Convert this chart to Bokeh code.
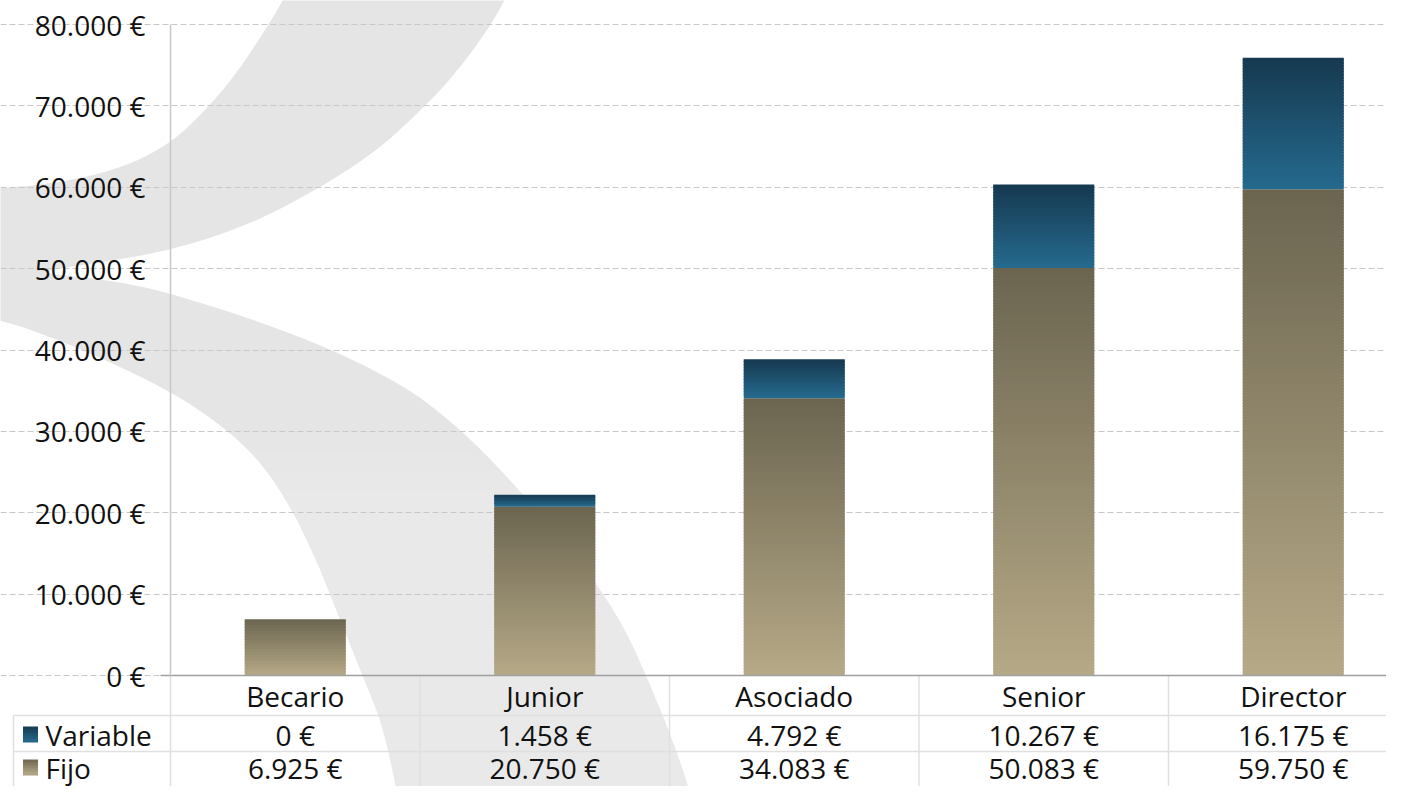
import numpy as np
from bokeh.plotting import figure
from bokeh.models import Range1d, LinearAxis, FixedTicker, Grid, ColumnDataSource
from bokeh.core.properties import value
from bokeh.embed import file_html
from bokeh.resources import INLINE

# ---------------- data ----------------
categories = ["Becario", "Junior", "Asociado", "Senior", "Director"]
fijo = [6925, 20750, 34083, 50083, 59750]
variable = [0, 1458, 4792, 10267, 16175]
series = ["Variable", "Fijo"]
y_ticks = [0, 10000, 20000, 30000, 40000, 50000, 60000, 70000, 80000]


def eur(v):
    return f"{v:,}".replace(",", ".") + " €"


# ---------------- layout helpers (figure pixels) ----------------
W, H = 1386, 786
CAT_PX = 249.5           # px per category
AX_PX = 170              # x of the value axis
ZERO_PY = 675            # y of 0
TOP_PY = 24              # y of top tick
UNIT_PX = (ZERO_PY - TOP_PY) / y_ticks[-1]


def px2x(px):
    return -0.5 + (px - AX_PX) / CAT_PX


def py2y(py):
    return (ZERO_PY - py) / UNIT_PX


x0, x1 = px2x(0), px2x(W)
y1, y0 = py2y(0), py2y(H)

FONT = "Open Sans"
FS = "28px"
TXT = "#111111"

FIJO_TOP, FIJO_BOT = (107, 101, 80), (182, 169, 135)
VAR_TOP, VAR_BOT = (22, 57, 80), (37, 106, 142)


def lerp(c0, c1, f):
    return "#%02x%02x%02x" % tuple(int(round(a + (b - a) * f)) for a, b in zip(c0, c1))


def slices(xs, bottoms, tops, c_top, c_bot, step_px=3.0):
    X, B, T, C = [], [], [], []
    ov = 1.5 / UNIT_PX
    for x, b, t in zip(xs, bottoms, tops):
        if t <= b:
            continue
        n = max(1, int(np.ceil((t - b) * UNIT_PX / step_px)))
        h = (t - b) / n
        for i in range(n):
            X.append(x)
            B.append(b + i * h)
            T.append(min(t, b + (i + 1) * h + ov))
            C.append(lerp(c_bot, c_top, (i + 0.5) / n))
    return dict(x=X, bottom=B, top=T, color=C)


def chaikin(pts, it=3):
    for _ in range(it):
        new = []
        for i in range(len(pts)):
            a, b = pts[i], pts[(i + 1) % len(pts)]
            new.append((0.75 * a[0] + 0.25 * b[0], 0.75 * a[1] + 0.25 * b[1]))
            new.append((0.25 * a[0] + 0.75 * b[0], 0.25 * a[1] + 0.75 * b[1]))
        pts = new
    return pts


p = figure(width=W, height=H, x_range=Range1d(x0, x1), y_range=Range1d(y0, y1),
           output_backend="svg", toolbar_location=None,
           x_axis_type=None, y_axis_type=None, min_border=0,
           min_border_left=0, min_border_right=0, min_border_top=0, min_border_bottom=0)
p.outline_line_color = None
p.background_fill_color = "white"
p.border_fill_color = "white"

# ---------------- watermark (decorative background) ----------------
wm_px = [(300, -40), (283, 0), (258, 40), (233, 77), (200, 115), (167, 145), (120, 168),
         (60, 182), (0, 188), (-40, 190), (-40, 318), (0, 318), (80, 348), (170, 390),
         (235, 435), (275, 480), (310, 545), (340, 620), (364, 680), (382, 724), (399, 802),
         (405, 860), (700, 860), (694, 802), (662, 712), (612, 600), (520, 490), (460, 428),
         (400, 382), (300, 335), (170, 292), (100, 278), (30, 272), (100, 262), (170, 250),
         (250, 224), (320, 187), (377, 150), (420, 110), (449, 80), (480, 40), (505, 0),
         (520, -40)]
wm_s = chaikin(wm_px, 3)
wm = p.patch([px2x(a) for a, b in wm_s], [py2y(b) for a, b in wm_s],
             fill_color="#e5e5e5", line_color=None)
wm.level = "image"
fade_steps = list(range(430, 800, 20))
fade = p.quad(left=[px2x(150)] * len(fade_steps), right=[px2x(820)] * len(fade_steps),
              top=[py2y(s) for s in fade_steps], bottom=[py2y(900)] * len(fade_steps),
              fill_color="white", fill_alpha=0.045, line_color=None)
fade.level = "image"

# ---------------- grid ----------------
grid = Grid(dimension=1, ticker=FixedTicker(ticks=y_ticks), bounds=(px2x(160), x1),
            grid_line_color="#c8c8c8", grid_line_width=1.2, grid_line_dash="6 3")
p.add_layout(grid)

# ---------------- bars ----------------
idx = list(range(len(categories)))
fj = slices(idx, [0] * len(idx), fijo, FIJO_TOP, FIJO_BOT)
vr = slices(idx, fijo, [f + v for f, v in zip(fijo, variable)], VAR_TOP, VAR_BOT)
BAR_W = 0.405
p.vbar(x="x", bottom="bottom", top="top", width=BAR_W, fill_color="color", line_color=None,
       source=ColumnDataSource(fj))
p.vbar(x="x", bottom="bottom", top="top", width=BAR_W, fill_color="color", line_color=None,
       source=ColumnDataSource(vr))

# ---------------- axes ----------------
yaxis = LinearAxis(fixed_location=-0.5, ticker=FixedTicker(ticks=y_ticks),
                   major_label_overrides={t: eur(t) for t in y_ticks}, bounds=(0, y_ticks[-1]))
yaxis.axis_line_color = "#c8c8c8"
yaxis.axis_line_width = 1.5
yaxis.major_tick_out = 0
yaxis.major_tick_in = 0
yaxis.minor_tick_out = 0
yaxis.minor_tick_in = 0
yaxis.major_label_standoff = 25
yaxis.major_label_text_font = FONT
yaxis.major_label_text_font_size = FS
yaxis.major_label_text_color = TXT
p.add_layout(yaxis, "left")

xaxis = LinearAxis(fixed_location=0, ticker=FixedTicker(ticks=idx),
                   major_label_overrides={i: c for i, c in zip(idx, categories)},
                   bounds=(px2x(160), x1))
xaxis.axis_line_color = "#a0a0a0"
xaxis.axis_line_width = 1.5
xaxis.major_tick_out = 0
xaxis.major_tick_in = 0
xaxis.minor_tick_out = 0
xaxis.minor_tick_in = 0
xaxis.major_label_standoff = 1
xaxis.major_label_text_font = FONT
xaxis.major_label_text_font_size = FS
xaxis.major_label_text_color = TXT
p.add_layout(xaxis, "below")

# ---------------- data table ----------------
row_var, row_fijo = py2y(734), py2y(767)
line_a, line_b = py2y(715), py2y(751)
TL = "#e0e0e0"
# horizontal rules
p.segment(x0=[px2x(13)] * 2, x1=[x1] * 2, y0=[line_a, line_b], y1=[line_a, line_b],
          line_color=TL, line_width=1.5)
# vertical rules at category boundaries
bounds_x = [i - 0.5 for i in range(len(categories) + 1)]
p.segment(x0=bounds_x, x1=bounds_x, y0=[0] * len(bounds_x), y1=[y0] * len(bounds_x),
          line_color=TL, line_width=1.5)
p.segment(x0=[px2x(13)], x1=[px2x(13)], y0=[line_a], y1=[y0], line_color=TL, line_width=1.5)

p.text(x=idx, y=[row_var] * len(idx), text=[eur(v) for v in variable],
       text_font=value(FONT), text_font_size=FS, text_color=TXT,
       text_align="center", text_baseline="middle")
p.text(x=idx, y=[row_fijo] * len(idx), text=[eur(v) for v in fijo],
       text_font=value(FONT), text_font_size=FS, text_color=TXT,
       text_align="center", text_baseline="middle")
p.text(x=[px2x(45)] * 2, y=[row_var, row_fijo], text=series,
       text_font=value(FONT), text_font_size=FS, text_color=TXT,
       text_align="left", text_baseline="middle")

# legend swatches with gradient
sw_x = px2x(30)
for row, ctop, cbot in [(row_var, VAR_TOP, VAR_BOT), (row_fijo, FIJO_TOP, FIJO_BOT)]:
    n = 5
    ys = [row + (7.5 - (i + 0.5) * 15 / n) / UNIT_PX for i in range(n)]
    cols = [lerp(ctop, cbot, (i + 0.5) / n) for i in range(n)]
    p.rect(x=[sw_x] * n, y=ys, width=15, height=15 / n + 1.0, width_units="screen",
           height_units="screen", fill_color=cols, line_color=None)

open("out.html", "w").write(file_html(p, INLINE))
